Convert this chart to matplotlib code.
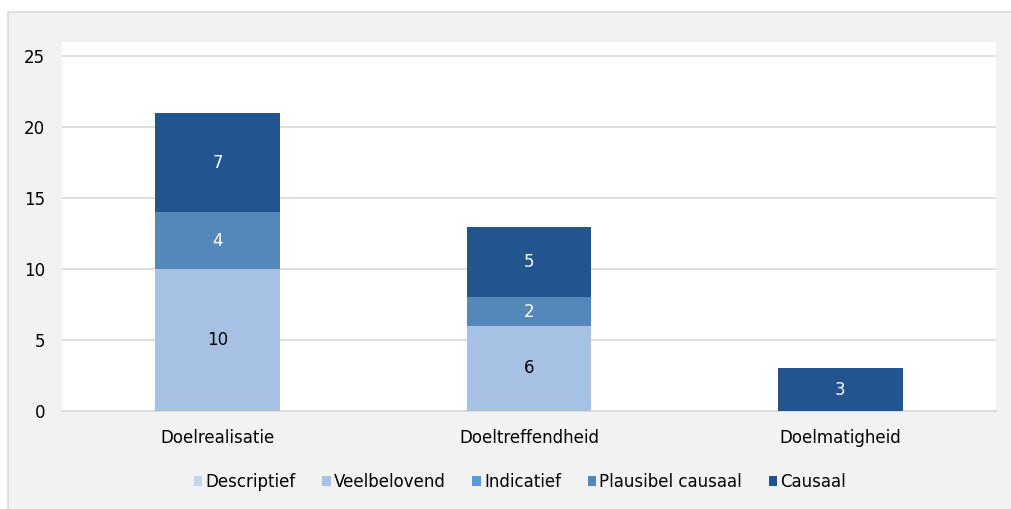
import matplotlib
matplotlib.use("Agg")
import matplotlib.pyplot as plt
import numpy as np
from matplotlib.patches import Rectangle

categories = ["Doelrealisatie", "Doeltreffendheid", "Doelmatigheid"]
series = ["Descriptief", "Veelbelovend", "Indicatief", "Plausibel causaal", "Causaal"]
values = {
    "Descriptief": [0, 0, 0],
    "Veelbelovend": [10, 6, 0],
    "Indicatief": [0, 0, 0],
    "Plausibel causaal": [4, 2, 0],
    "Causaal": [7, 5, 3],
}
colors = ["#c5d5ea", "#a6c1e4", "#5b9bd5", "#5588ba", "#22558f"]
label_colors = ["black", "black", "white", "white", "white"]

plt.rcParams["font.family"] = "DejaVu Sans"

W, H = 1011, 509
fig = plt.figure(figsize=(W / 100, H / 100), dpi=100, facecolor="white")
fig.patches.append(Rectangle((8 / W, -0.01), 1.02, (H - 12) / H + 0.01,
                             transform=fig.transFigure, facecolor="#f2f2f2",
                             edgecolor="#d9d9d9", linewidth=1.2, zorder=-10))

ax = fig.add_axes([62 / W, (H - 411) / H, (996 - 62) / W, (411 - 42) / H])
ax.set_zorder(2)
ax.set_facecolor("white")

x = np.arange(len(categories))
bottom = np.zeros(len(categories))
for name, col, lc in zip(series, colors, label_colors):
    vals = np.array(values[name], dtype=float)
    ax.bar(x, vals, width=0.4, bottom=bottom, color=col, label=name, zorder=3)
    for xi, v, b in zip(x, vals, bottom):
        if v > 0:
            ax.text(xi, b + v / 2, f"{int(v)}", ha="center", va="center",
                    color=lc, fontsize=12, zorder=4)
    bottom += vals

ax.set_xlim(-0.5, 2.5)
ax.set_ylim(0, 26)
ax.set_yticks([0, 5, 10, 15, 20, 25])
ax.set_xticks(x)
ax.set_xticklabels(categories)
ax.grid(axis="y", color="#d9d9d9", linewidth=1.2, zorder=1)
ax.set_axisbelow(True)
for s in ["top", "right", "left"]:
    ax.spines[s].set_visible(False)
ax.spines["bottom"].set_color("#d9d9d9")
ax.spines["bottom"].set_linewidth(1.2)
ax.tick_params(axis="y", length=0, pad=12, labelsize=12)
ax.tick_params(axis="x", length=0, pad=13, labelsize=12)

handles, labels = ax.get_legend_handles_labels()
leg = fig.legend(handles, labels, loc="center", bbox_to_anchor=(520 / W, 27 / H),
                 ncol=5, frameon=False, fontsize=12, handlelength=0.5,
                 handleheight=0.5, handletextpad=0.2, columnspacing=1.6)
leg.set_zorder(3)

fig.savefig("out.png", dpi=100)
